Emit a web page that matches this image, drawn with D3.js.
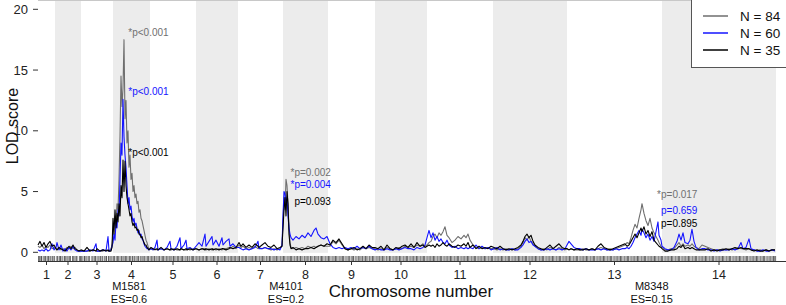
<!DOCTYPE html>
<html><head><meta charset="utf-8">
<script src="https://cdn.jsdelivr.net/npm/d3@7"></script>
<style>body{margin:0;background:#fff}svg{display:block;font-family:"Liberation Sans",Arial,sans-serif}</style>
</head><body><svg id="c" width="786" height="305"></svg>
<script>
// ---- data ----
const chromLabels = ["1","2","3","4","5","6","7","8","9","10","11","12","13","14"];
const chromLengths = [17,26,32,37,46,42,45,45,47,52,66,74,95,114];
const yTicks = [0,5,10,15,20];
const seriesNames = ["N = 84","N = 60","N = 35"];
const seriesColors = ["#6e6e6e","#1414ff","#000000"];

const pos = [0,2,4,6,8,10,12,14,16,
 18,19,21,23,25,27,29,31,33,35,37,39,41,
 43,46,49,52,55,58,59,62,65,68,70,71,73,
 74,75,76,77,78,79,80,81,82,83,84,85,86,87,88,89,90,91,92,93,94,95,96,97,98,99,100,101,102,103,104,105,106,107,108,109,110,111,
 113,115,117,119,120,123,126,129,132,133,136,139,142,143,146,148,149,152,155,
 158,161,164,167,168,171,174,175,178,181,184,185,188,191,192,195,198,
 201,203,205,208,211,214,217,220,221,224,227,230,233,236,239,242,244,
 245,246,247,248,249,250,251,252,253,255,258,261,264,267,270,273,276,278,280,283,286,289,
 292,295,298,301,304,307,310,313,316,319,322,325,328,331,334,
 337,340,343,346,349,352,355,358,361,364,367,370,373,376,379,382,385,387,
 389,391,393,395,397,399,401,403,405,407,409,411,414,417,420,423,426,428,430,432,435,438,441,444,447,450,453,
 456,459,462,465,468,471,474,477,480,483,485,487,489,491,493,495,497,500,503,506,509,512,515,518,521,524,527,
 529,531,533,536,539,542,545,548,551,554,557,560,563,566,569,572,575,578,581,584,587,589,591,593,595,597,599,601,603,604,606,608,610,612,614,616,618,620,621,623,
 624,627,630,633,636,639,641,643,645,647,650,652,654,656,658,661,664,667,670,673,676,679,682,685,688,691,694,697,700,703,705,708,711,713,716,719,722,725,728,731,734,737];

const lod84 = [0.5,0.4,0.6,0.3,0.5,0.4,0.6,0.3,0.4,
 0.3,0.2,0.3,0.2,0.3,0.2,0.4,0.3,0.5,0.3,0.4,0.2,0.1,
 0.1,0.1,0.1,0.1,0.2,0.1,0.1,0.1,0.1,0.2,0.1,0.1,0.3,
 0.6,1.5,2.5,3.0,2.2,4.0,3.5,6.0,9.5,14.5,12.0,13.5,17.5,11.0,12.5,9.0,10.0,7.0,8.0,6.0,6.5,5.0,5.5,4.5,4.8,4.0,4.2,3.3,3.5,2.8,2.6,2.2,1.8,1.4,1.0,0.8,0.5,0.3,
 0.3,0.2,0.3,0.2,0.2,0.3,0.2,0.3,0.2,0.2,0.3,0.2,0.2,0.3,0.2,0.2,0.3,0.2,0.3,
 0.3,0.2,0.3,0.3,0.2,0.3,0.2,0.3,0.2,0.3,0.2,0.3,0.3,0.4,0.3,0.5,0.3,
 0.6,0.4,0.5,0.3,0.4,0.3,0.5,0.3,0.4,0.3,0.4,0.3,0.2,0.3,0.2,0.3,0.5,
 2.5,4.5,3.5,6.0,5.5,4.0,2.0,0.8,0.4,0.3,0.4,0.3,0.4,0.3,0.5,0.4,0.5,0.4,0.5,0.6,0.5,0.5,
 0.5,0.9,0.7,1.0,0.6,0.3,0.2,0.3,0.2,0.3,0.2,0.4,0.3,0.4,0.3,
 0.3,0.2,0.3,0.2,0.4,0.3,0.2,0.3,0.4,0.3,0.5,0.4,0.5,0.4,0.6,0.5,0.7,0.5,
 0.6,0.8,0.9,1.3,1.5,1.2,1.6,1.4,1.7,2.1,1.4,1.2,0.8,1.0,1.3,1.1,1.4,1.2,1.5,1.0,0.6,0.4,0.3,0.4,0.3,0.4,0.3,
 0.3,0.2,0.3,0.2,0.3,0.2,0.3,0.2,0.3,0.5,0.8,1.2,1.0,1.3,0.9,0.7,0.5,0.3,0.2,0.3,0.2,0.4,0.3,0.2,0.4,0.3,0.2,
 0.3,0.2,0.3,0.2,0.2,0.2,0.3,0.2,0.2,0.3,0.2,0.3,0.4,0.3,0.2,0.3,0.2,0.3,0.4,0.5,0.6,0.8,0.7,1.2,1.8,2.3,2.0,2.8,3.5,4.0,3.2,2.6,2.2,2.8,2.0,1.6,1.3,1.0,0.8,0.5,
 0.4,0.2,0.2,0.3,0.3,0.6,0.8,0.5,0.7,0.5,0.6,0.5,0.7,0.5,0.4,0.3,0.6,0.5,0.4,0.3,0.2,0.2,0.2,0.3,0.2,0.3,0.2,0.3,0.4,0.3,0.3,0.2,0.3,0.2,0.2,0.1,0.2,0.1,0.2,0.1,0.2,0.2];

const lod60 = [0.2,0.1,0.2,0.1,0.3,0.1,0.2,0.7,0.2,
 0.4,0.8,0.2,0.6,0.1,0.3,0.1,0.4,0.2,0.5,0.2,0.1,0.1,
 0.1,0.1,0.1,0.2,0.1,0.7,0.1,0.1,0.2,0.1,1.3,0.1,0.2,
 0.5,0.8,1.5,1.0,2.5,2.0,3.5,3.0,6.0,9.0,8.0,12.6,9.5,8.0,7.0,5.5,4.0,4.5,3.5,3.8,3.0,2.5,2.8,2.2,2.4,2.0,1.6,1.8,1.4,1.5,1.1,1.0,0.7,0.5,0.4,0.3,0.3,0.2,
 0.3,0.2,0.4,1.0,0.2,0.3,0.2,0.4,0.9,0.3,0.2,0.5,1.2,0.3,0.6,1.0,0.3,0.4,0.2,
 0.5,0.8,0.5,1.5,0.5,0.9,1.3,0.6,1.0,0.5,1.2,0.6,0.9,1.1,0.5,0.7,0.4,
 0.4,0.3,0.2,0.3,0.2,0.3,0.4,0.9,0.3,0.3,0.4,0.3,0.3,0.2,0.3,0.2,0.6,
 3.0,5.0,4.8,4.0,4.5,3.0,2.0,1.5,1.2,1.0,1.3,1.1,1.4,1.2,1.6,1.3,1.8,2.0,1.5,1.2,1.1,1.3,
 0.7,0.4,0.3,0.4,0.3,0.4,0.3,0.4,0.3,0.5,0.3,0.4,0.3,0.5,0.3,
 0.2,0.3,0.2,0.2,0.3,0.2,0.2,0.3,0.2,0.3,0.4,0.3,0.3,0.2,0.4,0.3,0.4,0.6,
 1.2,1.8,1.2,1.6,1.0,1.3,0.9,1.1,0.8,0.7,1.0,0.6,0.4,0.5,0.3,0.4,0.3,0.4,0.3,0.4,0.3,0.6,0.3,0.5,0.3,0.4,0.2,
 0.3,0.4,0.2,0.3,0.2,0.2,0.3,0.2,0.2,0.4,0.6,0.9,1.1,0.8,0.9,0.6,0.5,0.3,0.2,0.2,0.3,0.2,0.3,0.2,0.3,0.2,0.3,
 0.6,0.9,0.7,0.4,0.3,0.3,0.2,0.3,0.2,0.2,0.2,0.3,0.2,0.3,0.2,0.2,0.2,0.3,0.2,0.3,0.3,0.4,0.3,0.5,0.8,1.2,1.5,1.8,1.4,1.9,1.6,1.2,1.5,1.0,1.3,0.9,1.7,2.5,1.4,1.0,
 0.5,0.3,0.2,0.2,0.4,0.9,1.5,1.0,1.6,0.8,0.7,1.0,1.9,0.9,0.4,0.2,0.3,0.3,0.2,0.2,0.1,0.2,0.1,0.2,0.2,0.2,0.3,0.2,0.3,0.8,0.3,0.4,1.1,0.3,0.2,0.1,0.1,0.2,0.1,0.1,0.2,0.1];

const lod35 = [0.6,0.9,0.5,0.8,0.4,0.7,0.9,0.5,0.6,
 0.3,0.2,0.4,0.3,0.2,0.1,0.3,0.5,0.3,0.6,0.3,0.2,0.1,
 0.2,0.1,0.4,0.1,0.2,0.1,0.3,0.1,0.2,0.1,0.2,0.1,0.1,
 0.4,2.8,1.5,3.5,2.0,3.2,2.5,4.0,3.0,5.5,4.5,7.6,5.0,7.5,5.5,4.5,4.0,3.5,3.0,3.2,2.5,2.2,2.4,2.0,2.1,1.8,1.9,1.5,1.5,1.2,1.3,1.0,0.8,0.6,0.6,0.4,0.3,0.2,
 0.4,0.3,0.2,0.3,0.2,0.4,0.2,0.3,0.2,0.3,0.2,0.3,0.2,0.3,0.2,0.3,0.2,0.3,0.2,
 0.3,0.2,0.3,0.2,0.3,0.2,0.3,0.2,0.3,0.2,0.3,0.3,0.2,0.3,0.4,0.3,0.4,
 0.8,0.5,0.7,0.4,0.6,0.4,0.7,0.5,0.4,0.6,0.8,0.5,0.4,0.6,0.3,0.4,0.5,
 2.0,3.5,4.5,3.0,5.0,4.0,1.5,0.6,0.3,0.4,0.2,0.3,0.2,0.3,0.3,0.4,0.3,0.4,0.5,0.6,0.5,0.7,
 0.6,1.0,0.8,1.1,0.7,0.3,0.2,0.3,0.4,0.2,0.3,0.5,0.3,0.6,0.4,
 0.4,0.3,0.5,0.2,0.6,0.3,0.2,0.4,0.3,0.5,0.6,0.4,0.7,0.4,0.8,0.5,0.6,0.4,
 0.5,0.6,0.5,0.6,0.4,0.7,0.5,0.6,0.8,0.6,0.5,0.7,0.5,0.4,0.6,0.5,0.7,0.5,0.8,0.4,0.6,0.3,0.5,0.3,0.4,0.3,0.5,
 0.4,0.3,0.5,0.3,0.2,0.3,0.2,0.3,0.4,0.6,0.9,1.3,1.5,1.2,1.4,0.9,0.6,0.4,0.3,0.2,0.4,0.6,0.3,0.5,0.7,0.4,0.3,
 0.3,0.2,0.3,0.2,0.3,0.2,0.2,0.3,0.2,0.3,0.2,0.5,0.7,0.4,0.3,0.2,0.3,0.4,0.5,0.6,0.7,0.5,0.6,0.9,1.2,1.5,1.2,1.6,2.0,1.7,2.1,1.5,1.8,1.3,1.7,1.0,0.8,0.6,0.5,0.4,
 0.3,0.1,0.1,0.2,0.2,0.3,0.5,0.4,0.6,0.3,0.4,0.3,0.4,0.3,0.2,0.2,0.2,0.2,0.3,0.1,0.2,0.1,0.2,0.2,0.3,0.2,0.3,0.4,0.3,0.4,0.3,0.3,0.3,0.2,0.1,0.2,0.1,0.1,0.2,0.1,0.2,0.2];

const rugPos = [0.5,1.6,2.9,3.5,5.2,6.8,7.4,9.1,10.3,11.0,12.7,14.2,15.1,16.6,18.9,19.7,21.3,22.4,23.0,24.8,26.5,27.3,28.9,30.1,31.7,32.4,34.6,35.3,36.9,38.2,39.0,41.4,42.6,43.3,44.9,46.5,47.1,48.8,50.3,51.6,53.9,55.0,56.7,57.5,59.1,60.8,62.2,63.0,64.6,66.3,67.9,68.5,70.4,71.1,72.8,74.0,75.7,76.4,78.2,79.6,80.3,82.0,83.5,84.9,86.1,87.6,88.3,90.0,91.5,92.7,94.3,95.0,96.6,98.1,99.8,100.6,102.3,103.9,105.1,106.4,108.0,109.7,110.4,112.1,113.6,114.9,116.3,117.0,118.8,120.2,121.5,123.1,124.7,125.4,127.0,128.6,129.9,131.3,132.8,134.0,135.5,136.2,137.9,139.4,140.6,142.1,143.7,144.5,146.0,147.8,149.2,150.0,151.7,153.3,154.6,155.4,157.1,158.7,160.0,161.4,162.9,164.3,165.6,167.2,168.5,169.3,171.0,172.8,174.1,175.5,176.2,177.9,179.6,180.4,182.1,183.8,185.0,186.5,187.3,189.0,190.7,192.2,193.4,194.9,196.3,197.6,199.1,200.8,201.5,203.2,204.7,206.0,207.6,208.4,210.1,211.9,213.2,214.6,216.0,217.5,218.3,220.0,221.7,223.1,224.4,225.2,226.9,228.6,230.0,231.5,232.3,234.1,235.8,237.0,238.4,239.2,241.0,242.7,244.1,245.5,246.3,248.0,249.8,251.1,252.6,253.4,255.0,256.7,258.2,259.5,261.0,262.4,263.1,264.9,266.6,268.0,269.3,270.8,272.4,273.2,274.9,276.5,277.8,279.1,280.6,282.2,283.5,284.3,286.0,287.7,289.1,290.5,291.3,293.0,294.8,296.1,297.5,298.3,300.0,301.8,303.1,304.6,305.4,307.1,308.9,310.3,311.6,313.2,314.7,315.5,317.2,318.9,320.4,321.8,323.1,324.5,326.0,327.4,328.2,329.9,331.6,333.0,334.5,335.3,337.0,338.8,340.1,341.6,343.0,344.4,345.2,346.9,348.6,350.0,351.5,352.3,354.1,355.8,357.2,358.7,360.0,361.5,362.3,364.0,365.7,367.1,368.6,369.4,371.1,372.8,374.2,375.6,377.0,378.5,379.3,381.0,382.7,384.1,385.6,386.4,388.1,389.8,391.2,392.7,394.1,395.5,396.3,398.0,399.7,401.1,402.6,403.4,405.1,406.8,408.2,409.7,411.1,412.5,413.3,415.0,416.7,418.1,419.6,420.4,422.1,423.8,425.2,426.7,428.1,429.5,430.3,432.0,433.7,435.1,436.6,437.4,439.1,440.8,442.2,443.7,445.1,446.5,447.3,449.0,450.7,452.1,453.6,454.4,456.1,457.8,459.2,460.7,462.1,463.5,464.3,466.0,467.7,469.1,470.6,471.4,473.1,474.8,476.2,477.7,479.1,480.5,481.3,483.0,484.7,486.1,487.6,488.4,490.1,491.8,493.2,494.7,496.1,497.5,498.3,500.0,501.7,503.1,504.6,505.4,507.1,508.8,510.2,511.7,513.1,514.5,515.3,517.0,518.7,520.1,521.6,522.4,524.1,525.8,527.2,528.7,530.1,531.5,532.3,534.0,535.7,537.1,538.6,539.4,541.1,542.8,544.2,545.7,547.1,548.5,549.3,551.0,552.7,554.1,555.6,556.4,558.1,559.8,561.2,562.7,564.1,565.5,566.3,568.0,569.7,571.1,572.6,573.4,575.1,576.8,578.2,579.7,581.1,582.5,583.3,585.0,586.7,588.1,589.6,590.4,592.1,593.8,595.2,596.7,598.1,599.5,600.3,602.0,603.7,605.1,606.6,607.4,609.1,610.8,612.2,613.7,615.1,616.5,617.3,619.0,620.7,622.1,623.6,624.4,626.1,627.8,629.2,630.7,632.1,633.5,634.3,636.0,637.7,639.1,640.6,641.4,643.1,644.8,646.2,647.7,649.1,650.5,651.3,653.0,654.7,656.1,657.6,658.4,660.1,661.8,663.2,664.7,666.1,667.5,668.3,670.0,671.7,673.1,674.6,675.4,677.1,678.8,680.2,681.7,683.1,684.5,685.3,687.0,688.7,690.1,691.6,692.4,694.1,695.8,697.2,698.7,700.1,701.5,702.3,704.0,705.7,707.1,708.6,709.4,711.1,712.8,714.2,715.7,717.1,718.5,719.3,721.0,722.7,724.1,725.6,726.4,728.1,729.8,731.2,732.7,734.1,735.5,736.3,737.6];

// QTL annotations
const qtlPos = [94.2, 256.4, 623];
const qtlMarkers = ["M1581","M4101","M8348"];
const qtlES = ["ES=0.6","ES=0.2","ES=0.15"];
const qtlMarkerPos = [91, 248, 613.7];
const pLabels = [["*p<0.001","*p<0.001","*p<0.001"],["*p=0.002","*p=0.004","p=0.093"],["*p=0.017","p=0.659","p=0.895"]];
const pLabelLod = [[18.07,13.2,8.2],[6.55,5.58,4.18],[4.75,3.4,2.4]];
const labelColors = ["#707070","#1414ff","#000000"];

// ---- chart ----
const svg = d3.select("#c");
const total = d3.sum(chromLengths);
const starts = d3.cumsum([0].concat(chromLengths.slice(0,-1)));
const x = d3.scaleLinear().domain([0,total]).range([38,776]);
const y = d3.scaleLinear().domain([0,20]).range([252.3,9.3]);

// bands
svg.append("g").selectAll("rect").data(chromLengths).join("rect")
  .attr("x",(d,i)=>x(starts[i])).attr("width",(d,i)=>x(starts[i]+d)-x(starts[i]))
  .attr("y",0).attr("height",y(0)+0.5)
  .attr("fill",(d,i)=> i%2===1 ? "#ececec" : "none");

svg.append("line").attr("x1",38).attr("x2",786).attr("y1",0.5).attr("y2",0.5).attr("stroke","#c8c8c8");

// curves
const series = [lod84, lod60, lod35];
const line = d3.line().x((d,i)=>x(pos[i])).y(d=>y(d));
series.forEach((s,k)=>{
  svg.append("path").datum(s).attr("d",line).attr("fill","none")
    .attr("stroke",seriesColors[k]).attr("stroke-width",1.1).attr("stroke-linejoin","round");
});

// rug
svg.append("g").selectAll("line").data(rugPos).join("line")
  .attr("x1",d=>x(d)).attr("x2",d=>x(d)).attr("y1",256).attr("y2",261)
  .attr("stroke","#111").attr("stroke-opacity",0.6).attr("stroke-width",1);

// x axis
svg.append("line").attr("x1",38).attr("x2",786).attr("y1",261.5).attr("y2",261.5).attr("stroke","#333");
const centers = chromLengths.map((d,i)=>starts[i]+d/2);
const xg = svg.append("g");
xg.selectAll("line").data(centers).join("line")
  .attr("x1",d=>x(d)).attr("x2",d=>x(d)).attr("y1",261).attr("y2",265).attr("stroke","#333");
xg.selectAll("text").data(centers).join("text")
  .attr("x",d=>x(d)).attr("y",278.5).attr("text-anchor","middle").attr("font-size",12.5).attr("fill","#222")
  .text((d,i)=>chromLabels[i]);

// y axis
const yg = svg.append("g");
yg.selectAll("line").data(yTicks).join("line")
  .attr("x1",33).attr("x2",38).attr("y1",d=>y(d)).attr("y2",d=>y(d)).attr("stroke","#333");
yg.selectAll("text").data(yTicks).join("text")
  .attr("x",28).attr("y",d=>y(d)).attr("dy","0.36em").attr("text-anchor","end").attr("font-size",13).attr("fill","#222")
  .text(d=>d);

svg.append("text").attr("transform","translate(18,126) rotate(-90)").attr("text-anchor","middle")
  .attr("font-size",16).attr("fill","#111").text("LOD score");
svg.append("text").attr("x",411).attr("y",297).attr("text-anchor","middle")
  .attr("font-size",17).attr("fill","#111").text("Chromosome number");

// marker labels
qtlMarkers.forEach((m,i)=>{
  svg.append("text").attr("x",x(qtlMarkerPos[i])).attr("y",290.3).attr("text-anchor","middle").attr("font-size",11).attr("fill","#111").text(m);
  svg.append("text").attr("x",x(qtlMarkerPos[i])).attr("y",302.6).attr("text-anchor","middle").attr("font-size",11).attr("fill","#111").text(qtlES[i]);
});

// p labels
pLabels.forEach((row,i)=>{
  row.forEach((t,k)=>{
    const starW = t[0]==="*" ? 3.9 : 0;
    svg.append("text").attr("font-size",10).attr("fill",labelColors[k])
      .attr("x",x(qtlPos[i])-starW)
      .attr("y",y(pLabelLod[i][k])).attr("dy","0.35em").text(t);
  });
});

// legend
const lg = svg.append("g");
lg.append("rect").attr("x",691.5).attr("y",-1).attr("width",100).attr("height",68.5)
  .attr("fill","#fff").attr("stroke","#555");
seriesNames.forEach((n,k)=>{
  const yy = 16 + k*17;
  lg.append("line").attr("x1",703).attr("x2",728).attr("y1",yy).attr("y2",yy)
    .attr("stroke",seriesColors[k]).attr("stroke-width",1.5);
  lg.append("text").attr("x",740).attr("y",yy).attr("dy","0.36em").attr("font-size",13.5).attr("fill","#111").text(n);
});
</script></body></html>
